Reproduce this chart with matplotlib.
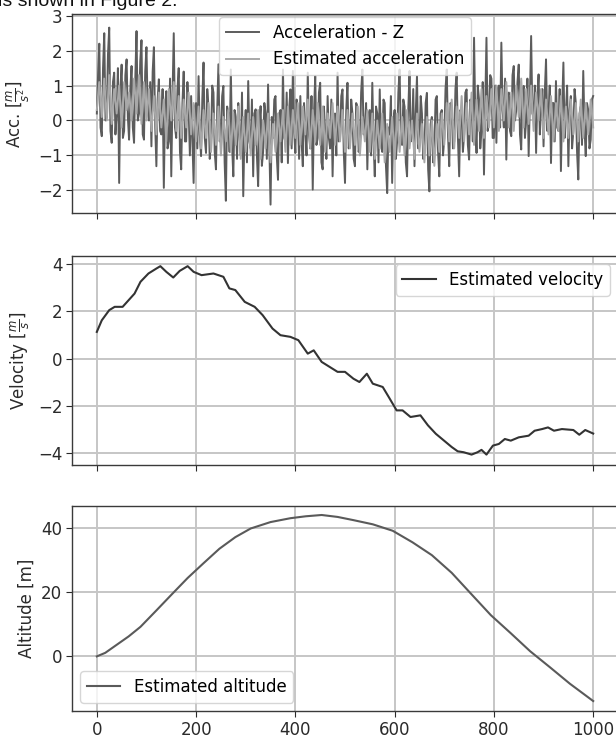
import numpy as np
import matplotlib
matplotlib.use("Agg")
import matplotlib.pyplot as plt

# ---------------- data ----------------
acc_z = [
    0.2, 1.3, 2.2, -0.2, -0.45, 1.5, 2.5, 0.0, 0.1, 1.9,
    2.66, -0.3, -0.64, 1.1, 1.37, -0.4, 0.2, 1.5, -1.79, 0.9,
    1.6, -0.5, -0.3, 1.3, 1.75, 0.1, -0.55, 0.9, 1.56, -0.2,
    -0.64, 1.2, 2.56, 0.0, 0.2, 1.7, 2.3, -0.4, -0.55, 1.4,
    2.1, 0.3, 0.0, 1.1, -0.74, 1.4, 2.1, -0.1, -1.31, 0.6,
    1.18, -0.3, -0.4, 0.9, -1.93, 0.4, 0.84, -0.8, -0.6, 1.2,
    -1.6, 0.7, 2.5, -0.2, -0.5, 0.9, 1.5, -0.9, -1.4, 0.5,
    1.4, -0.6, -0.6, 1.1, 0.3, -1.0, 0.7, -0.5, -1.79, 0.4,
    0.5, -0.8, 1.27, -0.4, -1.02, 0.6, 1.66, -0.5, -0.93, 0.9,
    0.4, -1.1, -0.6, 1.0, 0.8, -0.9, -1.4, 0.3, 1.61, -0.6,
    -0.5, 0.7, 0.99, -1.2, -2.3, 0.4, 0.2, -0.9, 1.46, -0.7,
    -1.6, 0.3, 0.1, -1.1, 0.5, -0.4, -1.0, 0.8, -2.17, -0.3,
    0.3, -1.2, 1.13, -0.6, -0.8, 0.6, -1.6, 0.2, 0.32, -1.0,
    -1.88, -0.1, 0.41, -1.3, -0.9, 0.5, 0.2, -1.1, 1.03, -0.7,
    -2.41, 0.1, -0.5, 0.6, 0.7, -1.0, -1.7, 0.2, 0.3, -1.2,
    1.46, -0.5, -0.6, 0.8, -1.22, 0.3, 0.89, -0.8, 1.42, -0.3,
    -0.93, 0.6, 0.1, -1.1, 0.7, -0.6, -1.31, 0.5, -0.2, -1.0,
    1.37, -0.4, -0.8, 0.7, -1.98, 0.2, 1.27, -0.7, -0.5, 0.8,
    1.08, -1.2, -1.4, 0.4, -0.3, -1.1, 0.7, -0.5, -0.8, 0.6,
    -1.6, 0.1, 0.2, -1.0, 1.37, -0.6, -0.4, 0.7, 0.89, -0.9,
    -1.79, 0.3, 1.08, -0.8, -0.5, 0.6, 0.2, -1.1, -1.31, 0.5,
    0.4, -0.9, -0.7, 0.8, 1.46, -0.4, -0.3, 0.5, -1.4, 0.2,
    0.3, -1.0, 1.08, -0.6, -1.6, 0.4, 0.2, -1.2, 0.89, -0.7,
    -0.9, 0.6, 0.5, -1.3, -2.08, -0.2, -0.4, 0.7, -1.79, 0.0,
    0.3, -1.1, -0.6, 0.8, 1.46, -0.5, -0.7, 0.6, 0.4, -1.2,
    -1.6, 0.3, 1.42, -0.6, -0.4, 0.9, -1.31, 0.2, 1.27, -0.8,
    -0.6, 0.7, 0.2, -1.1, -0.9, 0.5, 0.79, -1.4, -2.03, -0.1,
    0.1, -1.2, -0.8, 0.6, 0.7, -0.9, -1.6, 0.2, 0.3, -1.0,
    -0.5, 0.9, 1.46, -0.4, -1.31, 0.5, 0.4, -0.8, -0.6, 0.9,
    1.37, -0.5, -1.6, 0.3, 0.2, -0.9, -0.4, 0.8, 0.89, -0.7,
    -1.12, 0.6, 0.5, -0.6, 2.37, 0.1, -0.93, 1.0, 0.6, -0.8,
    -0.3, 1.1, -1.55, 0.4, 2.37, -0.3, 0.2, 1.3, 1.2, -0.5,
    -0.5, 1.0, -0.64, 0.9, 1.0, -0.2, 2.23, 0.3, -0.2, 1.2,
    -1.12, 0.7, 0.8, -0.3, -0.45, 1.3, 1.56, 0.0, 0.3, 1.1,
    1.6, -0.4, -0.83, 0.8, 0.99, -0.5, 0.0, 1.2, -1.02, 0.6,
    2.42, 0.2, 0.1, 1.0, -0.93, 0.7, 1.32, -0.4, 0.3, 0.9,
    -0.74, 0.8, 1.75, -0.3, 0.2, 1.0, -1.22, 0.5, 0.5, -0.6,
    1.13, -0.2, -0.3, 0.9, -1.45, 0.4, 1.66, -0.5, 0.2, 1.0,
    -1.31, 0.3, 0.7, -0.8, -0.3, 0.9, 0.5, -0.9, -1.69, 0.2,
    0.4, -0.7, 1.42, -0.2, -1.02, 0.5, 0.3, -0.8, -0.55, 0.6,
    0.7,
]

acc_est = [
    0.3, 1.1, 0.1, 1.2, 0.0, 1.3, -0.1, 0.9, 0.2, 1.0,
    -0.2, 1.1, 0.3, 0.8, 0.0, 1.2, 0.2, 1.3, -0.1, 1.1,
    0.0, 0.9, -0.3, 0.7, -0.4, 0.8, -0.2, 0.6, -0.6, 0.9,
    0.0, 1.1, -0.3, 0.7, -0.5, 0.6, -0.2, 0.8, -0.4, 0.5,
    -0.6, 0.4, -0.8, 0.3, -0.5, 0.5, -0.9, 0.2, -0.7, 0.4,
    -1.0, 0.1, -0.6, 0.3, -0.9, 0.2, -0.7, 0.4, -1.1, 0.1,
    -0.9, 0.2, -1.0, 0.1, -0.7, 0.3, -1.1, 0.0, -0.8, 0.2,
    -1.2, -0.1, -0.9, 0.2, -0.6, 0.3, -0.9, 0.4, -0.7, 0.3,
    -0.5, 0.5, -0.7, 0.4, -0.4, 0.6, -0.8, 0.3, -0.6, 0.5,
    -0.7, 0.4, -0.9, 0.2, -0.5, 0.5, -0.7, 0.4, -0.6, 0.3,
    -0.9, 0.3, -0.8, 0.2, -0.7, 0.4, -1.0, 0.1, -0.6, 0.3,
    -0.9, 0.2, -1.1, 0.0, -0.8, 0.2, -1.2, -0.1, -0.9, 0.1,
    -1.1, 0.2, -0.9, 0.1, -1.0, 0.3, -0.8, 0.0, -1.1, 0.2,
    -0.9, -0.1, -1.2, 0.1, -1.0, 0.0, -1.3, -0.1, -0.9, 0.2,
    -0.7, 0.5, -0.6, 0.6, -0.8, 0.4, -0.5, 0.7, -0.6, 0.5,
    -0.4, 0.8, -0.7, 0.6, -0.3, 0.9, -0.5, 0.7, -0.2, 0.9,
    -0.2, 1.0, -0.3, 0.9, 0.0, 1.1, -0.2, 0.8, -0.3, 1.0,
    0.1, 1.2, -0.2, 0.9, -0.1, 1.0, -0.3, 0.8, 0.0, 0.9,
    -0.5, 0.6, -0.4, 0.7, -0.6, 0.5, -0.3, 0.7, -0.6, 0.4,
    -0.5, 0.6, -0.4, 0.5, -0.6, 0.6, -0.5, 0.5, -0.4, 0.6,
    -0.2,
]

vel_x = [0, 10, 25, 36, 52, 64, 76, 88, 104, 120, 128, 140, 154, 167, 183,
         195, 211, 235, 255, 267, 279, 298, 318, 334, 354, 370, 390, 406,
         425, 437, 453, 469, 485, 500, 517, 529, 544, 556, 576, 588, 604,
         616, 632, 652, 667, 683, 703, 715, 727, 739, 755, 767, 775, 785,
         798, 810, 822, 834, 850, 870, 882, 897, 909, 921, 937, 960, 972,
         984, 1000]
vel = [1.13, 1.62, 2.05, 2.19, 2.19, 2.47, 2.75, 3.25, 3.6, 3.81, 3.91, 3.67,
       3.43, 3.71, 3.91, 3.67, 3.53, 3.6, 3.46, 2.97, 2.9, 2.4, 2.19, 1.84,
       1.27, 0.99, 0.92, 0.78, 0.21, 0.35, -0.14, -0.35, -0.56, -0.56, -0.85,
       -0.99, -0.64, -1.06, -1.2, -1.62, -2.19, -2.19, -2.47, -2.4, -2.82,
       -3.18, -3.53, -3.74, -3.92, -3.96, -4.06, -3.96, -3.86, -4.06, -3.68,
       -3.61, -3.4, -3.47, -3.33, -3.26, -3.05, -2.98, -2.91, -3.05, -2.98,
       -3.02, -3.22, -3.02, -3.17]

alt_x = [0, 17, 40, 64, 88, 120, 151, 183, 215, 247, 279, 310, 350, 390, 421,
         453, 485, 517, 556, 596, 636, 675, 715, 755, 794, 834, 873, 913,
         953, 1000]
alt = [0.0, 1.1, 3.6, 6.2, 9.2, 14.3, 19.3, 24.4, 29.0, 33.5, 37.1, 39.8,
       41.8, 43.0, 43.6, 44.0, 43.4, 42.4, 41.1, 39.1, 35.5, 31.5, 26.0,
       19.3, 12.8, 7.2, 1.6, -3.4, -8.5, -13.9]

xticks = [0, 200, 400, 600, 800, 1000]
acc_ticks = [-2, -1, 0, 1, 2, 3]
vel_ticks = [-4, -2, 0, 2, 4]
alt_ticks = [0, 20, 40]

# ---------------- figure ----------------
W, H = 616, 738
FS = 12
fig = plt.figure(figsize=(W / 100, H / 100), dpi=100)

def box(top, bottom):
    left, right = 72, 618
    return [left / W, 1 - bottom / H, (right - left) / W, (bottom - top) / H]

ax1 = fig.add_axes(box(14, 213))
ax2 = fig.add_axes(box(256, 465))
ax3 = fig.add_axes(box(506, 711))

grid_kw = dict(color="#c6c6c6", linewidth=1.4)
for ax in (ax1, ax2, ax3):
    ax.set_xlim(-50, 1050)
    ax.set_xticks(xticks)
    ax.grid(True, **grid_kw)
    ax.set_axisbelow(True)
    for s in ax.spines.values():
        s.set_color("#3a3a3a")
        s.set_linewidth(1.0)
    ax.tick_params(colors="#2a2a2a", labelsize=FS, length=4, pad=3)

ax1.set_xticklabels([])
ax2.set_xticklabels([])

ax_x1 = np.linspace(0, 1000, len(acc_z))
ax_x2 = np.linspace(0, 1000, len(acc_est))
ax1.plot(ax_x1, acc_z, color="#5c5c5c", linewidth=1.4, label="Acceleration - Z")
ax1.plot(ax_x2, acc_est, color="#a8a8a8", linewidth=1.4, label="Estimated acceleration")
ax1.set_ylim(-2.65, 3.05)
ax1.set_yticks(acc_ticks)
ax1.set_ylabel(r"Acc. $[\frac{m}{s^2}]$", fontsize=FS, color="#2a2a2a")
ax1.legend(loc="upper center", fontsize=FS, borderaxespad=0.2)

ax2.plot(vel_x, vel, color="#333333", linewidth=1.5, label="Estimated velocity")
ax2.set_ylim(-4.5, 4.34)
ax2.set_yticks(vel_ticks)
ax2.set_ylabel(r"Velocity $[\frac{m}{s}]$", fontsize=FS, color="#2a2a2a")
ax2.legend(loc="upper right", fontsize=FS)

ax3.plot(alt_x, alt, color="#5a5a5a", linewidth=1.5, label="Estimated altitude")
ax3.set_ylim(-17, 46.8)
ax3.set_yticks(alt_ticks)
ax3.set_ylabel("Altitude [m]", fontsize=FS, color="#2a2a2a")
ax3.legend(loc="lower left", fontsize=FS)

fig.text(-0.004, 1 - 6 / H, "is shown in Figure 2.", fontsize=14,
         family="Liberation Sans", va="baseline", ha="left", color="#111111")

fig.savefig("out.png", dpi=100)
